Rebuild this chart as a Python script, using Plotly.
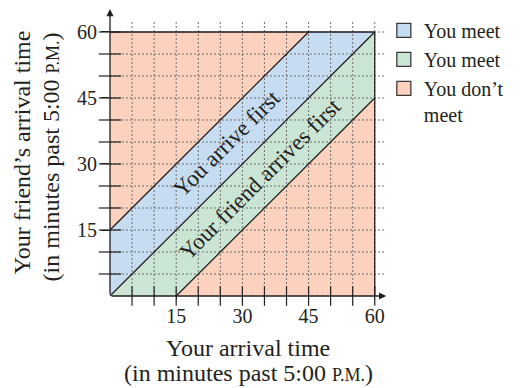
import plotly.graph_objects as go

# ---- data ----
t_max = 60                      # minutes past 5:00 P.M.
wait = 15                       # waiting window in minutes
grid_vals = list(range(5, 61, 5))
tick_vals = [15, 30, 45, 60]
tick_text = ["15", "30", "45", "60"]
region_names = ["You meet", "You meet", "You don’t<br>meet"]
region_colors = ["#c6ddf1", "#cbe5d4", "#fcd1bd"]
band_labels = ["You arrive first", "Your friend arrives first"]

FONT = "Liberation Serif, Times New Roman, serif"
INK = "#231f20"

# polygons built from the values above
salmon_x = [0, t_max, t_max, 0, 0]
salmon_y = [0, 0, t_max, t_max, 0]
blue_x = [0, 0, t_max - wait, t_max, 0]
blue_y = [0, wait, t_max, t_max, 0]
green_x = [0, t_max, t_max, wait, 0]
green_y = [0, t_max, t_max - wait, 0, 0]

fig = go.Figure()
for px, py, col in [(salmon_x, salmon_y, region_colors[2]),
                    (blue_x, blue_y, region_colors[0]),
                    (green_x, green_y, region_colors[1])]:
    fig.add_trace(go.Scatter(x=px, y=py, fill="toself", fillcolor=col,
                             mode="none", showlegend=False, hoverinfo="skip"))

# dotted grid drawn above the fills
gx, gy = [], []
for v in grid_vals:
    gx += [v, v, None]
    gy += [0, t_max + 2.3, None]
for v in grid_vals:
    gx += [0, t_max + 2.5, None]
    gy += [v, v, None]
fig.add_trace(go.Scatter(x=gx, y=gy, mode="lines",
                         line=dict(color="#707070", width=1, dash="2px,2px"),
                         showlegend=False, hoverinfo="skip"))

# boundary lines
bx = [0, t_max, None, t_max, t_max, None, 0, t_max, None,
      0, t_max - wait, None, wait, t_max]
by = [t_max, t_max, None, 0, t_max, None, 0, t_max, None,
      wait, t_max, None, 0, t_max - wait]
fig.add_trace(go.Scatter(x=bx, y=by, mode="lines",
                         line=dict(color=INK, width=1.3),
                         showlegend=False, hoverinfo="skip"))

# crossing tick marks every 5 minutes
fig.add_trace(go.Scatter(x=grid_vals, y=[0] * len(grid_vals), mode="markers",
                         marker=dict(symbol="line-ns-open", size=14, color=INK,
                                     line=dict(color=INK, width=1.2)),
                         cliponaxis=False, showlegend=False, hoverinfo="skip"))
fig.add_trace(go.Scatter(x=[0] * len(grid_vals), y=grid_vals, mode="markers",
                         marker=dict(symbol="line-ew-open", size=16, color=INK,
                                     line=dict(color=INK, width=1.2)),
                         cliponaxis=False, showlegend=False, hoverinfo="skip"))

# legend entries
for name, col in zip(region_names, region_colors):
    fig.add_trace(go.Scatter(x=[None], y=[None], mode="markers", name=name,
                             marker=dict(symbol="square", size=14, color=col,
                                         line=dict(color="#3a3a3a", width=1.3))))

# axes arrows
fig.add_annotation(x=62.6, y=0, ax=0, ay=0, xref="x", yref="y", axref="x", ayref="y",
                   showarrow=True, arrowhead=2, arrowsize=1.1, arrowwidth=1.3,
                   arrowcolor=INK, standoff=0, text="")
fig.add_annotation(x=0, y=65.2, ax=0, ay=0, xref="x", yref="y", axref="x", ayref="y",
                   showarrow=True, arrowhead=2, arrowsize=1.1, arrowwidth=1.3,
                   arrowcolor=INK, standoff=0, text="")

# band labels
fig.add_annotation(x=26.5, y=34.6, text=band_labels[0], showarrow=False, textangle=-45,
                   font=dict(family=FONT, size=23, color=INK))
fig.add_annotation(x=34.0, y=26.4, text=band_labels[1], showarrow=False, textangle=-45,
                   font=dict(family=FONT, size=23, color=INK))

# axis titles
small = "<span style='font-size:18px'>P.M.</span>"
title_font = dict(family=FONT, size=24, color=INK)
fig.add_annotation(x=0.498, y=-0.18, xref="paper", yref="paper", showarrow=False,
                   xanchor="center", yanchor="middle",
                   text="Your arrival time", font=title_font)
fig.add_annotation(x=0.498, y=-0.269, xref="paper", yref="paper", showarrow=False,
                   xanchor="center", yanchor="middle",
                   text="(in minutes past 5:00 " + small + ")", font=title_font)
fig.add_annotation(x=-0.316, y=0.50, xref="paper", yref="paper", showarrow=False,
                   xanchor="center", yanchor="middle", textangle=-90,
                   text="Your friend’s arrival time", font=title_font)
fig.add_annotation(x=-0.214, y=0.483, xref="paper", yref="paper", showarrow=False,
                   xanchor="center", yanchor="middle", textangle=-90,
                   text="(in minutes past 5:00 " + small + ")", font=title_font)

axis_common = dict(showgrid=False, zeroline=False, showline=False,
                   tickvals=tick_vals, ticktext=tick_text, ticks="outside",
                   tickcolor=INK, tickwidth=1.2,
                   tickfont=dict(family=FONT, size=20, color=INK))
fig.update_xaxes(range=[0, 63], ticklen=2, **axis_common)
fig.update_yaxes(range=[0, 65.45], ticklen=8, **axis_common)

fig.update_layout(
    width=517, height=380,
    margin=dict(l=102, r=137, t=0, b=92, autoexpand=False),
    plot_bgcolor="white", paper_bgcolor="white",
    showlegend=True,
    legend=dict(x=0.985, y=0.99, xanchor="left", yanchor="top",
                font=dict(family=FONT, size=20, color=INK),
                bgcolor="rgba(0,0,0,0)", valign="top",
                itemwidth=30, tracegroupgap=0),
)

fig.write_html("out.html")
